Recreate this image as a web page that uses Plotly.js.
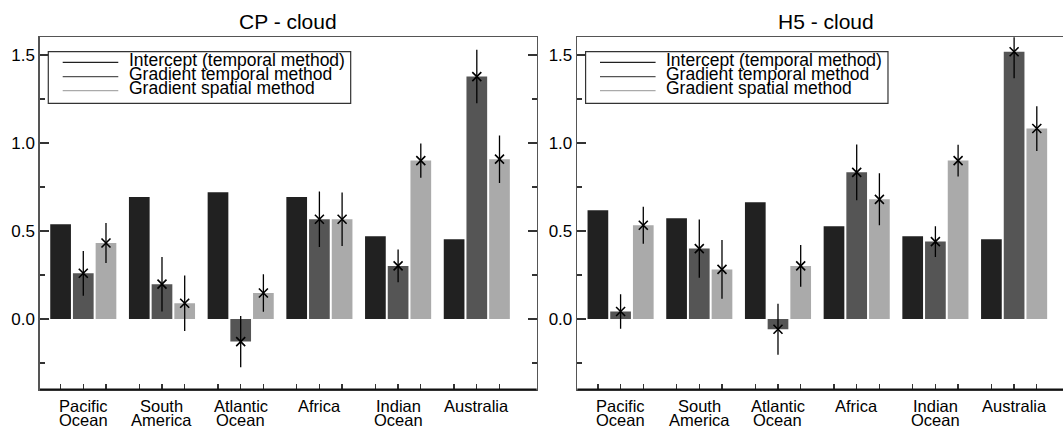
<!DOCTYPE html>
<html><head><meta charset="utf-8">
<script src="https://cdn.plot.ly/plotly-3.0.1.min.js"></script>
<style>html,body{margin:0;padding:0;overflow:hidden;background:#fff}#chart{width:1080px;height:429px}</style>
</head><body><div id="chart"></div>
<script>
// ---- data ----
const regions = ["Pacific Ocean","South America","Atlantic Ocean","Africa","Indian Ocean","Australia"];
const regionLine1 = ["Pacific","South","Atlantic","Africa","Indian","Australia"];
const regionLine2 = ["Ocean","America","Ocean","","Ocean",""];
const seriesNames = ["Intercept (temporal method)","Gradient temporal method","Gradient spatial method"];
const panelTitles = ["CP - cloud","H5 - cloud"];
const yTickVals = [0, 0.5, 1.0, 1.5];
const yTickText = ["0.0","0.5","1.0","1.5"];

// CP - cloud
const cpIntercept      = [0.538, 0.693, 0.720, 0.693, 0.470, 0.453];
const cpGradTemporal   = [0.260, 0.198, -0.128, 0.567, 0.302, 1.377];
const cpGradTemporalErr= [0.127, 0.155, 0.145, 0.158, 0.093, 0.152];
const cpGradSpatial    = [0.432, 0.090, 0.148, 0.567, 0.900, 0.908];
const cpGradSpatialErr = [0.114, 0.158, 0.107, 0.152, 0.097, 0.135];

// H5 - cloud
const h5Intercept      = [0.618, 0.572, 0.663, 0.527, 0.470, 0.453];
const h5GradTemporal   = [0.043, 0.400, -0.058, 0.833, 0.440, 1.518];
const h5GradTemporalErr= [0.098, 0.166, 0.145, 0.158, 0.087, 0.150];
const h5GradSpatial    = [0.533, 0.282, 0.302, 0.680, 0.900, 1.082];
const h5GradSpatialErr = [0.105, 0.167, 0.118, 0.148, 0.090, 0.127];

// ---- styling / layout ----
const W = 1080, H = 429;
const FONT = "Liberation Sans, Arial, Helvetica, sans-serif";
const colors = ["#212121", "#555555", "#aaaaaa"];
const BAR_STEP = 0.2884, BAR_W = 0.263;
const AX_COLOR = "#555555";
const TICK_COLOR = "#333333";
const py = p => 1 - p / H;
const Y_BOTTOM = 389.5, Y_TOP = 37.3;

const panels = [
  {title: panelTitles[0], vals: [cpIntercept, cpGradTemporal, cpGradSpatial], errs: [null, cpGradTemporalErr, cpGradSpatialErr], xa: "x", ya: "y", dom: [40/W, 536.7/W]},
  {title: panelTitles[1], vals: [h5Intercept, h5GradTemporal, h5GradSpatial], errs: [null, h5GradTemporalErr, h5GradSpatialErr], xa: "x2", ya: "y2", dom: [577.3/W, 1074/W]}
];

const traces = [];
const shapes = [];
const annotations = [];
const tickPositions = [];
regions.forEach((_, i) => { for (let k = 0; k < 3; k++) tickPositions.push(i + (k - 1) * BAR_STEP); });

panels.forEach(p => {
  p.vals.forEach((vals, k) => {
    const xs = regions.map((_, i) => i + (k - 1) * BAR_STEP);
    traces.push({
      type: "bar", x: xs, y: vals, width: BAR_W, name: seriesNames[k],
      marker: {color: colors[k], line: {width: 0}},
      xaxis: p.xa, yaxis: p.ya, showlegend: false, hoverinfo: "skip"
    });
    if (p.errs[k]) {
      traces.push({
        type: "scatter", mode: "markers", x: xs, y: vals, name: seriesNames[k],
        marker: {symbol: "x-thin", size: 9, line: {width: 1.6, color: "#000"}, color: "#000"},
        error_y: {type: "data", array: p.errs[k], visible: true, color: "#000", thickness: 1.3, width: 0},
        xaxis: p.xa, yaxis: p.ya, showlegend: false, hoverinfo: "skip"
      });
    }
  });
  const dref = p.xa + " domain";
  // darker bottom axis line
  shapes.push({type: "line", xref: dref, yref: "paper", x0: 0, x1: 1, y0: py(Y_BOTTOM), y1: py(Y_BOTTOM), line: {color: "#111", width: 2.2}, layer: "above"});
  // subplot title
  annotations.push({text: p.title, xref: dref, x: 0.5, yref: "paper", y: py(21), xanchor: "center", yanchor: "middle", showarrow: false, font: {size: 21, color: "#000", family: FONT}});
  // region labels
  regions.forEach((_, i) => {
    annotations.push({text: regionLine1[i], xref: p.xa, x: i, yref: "paper", y: py(406), xanchor: "center", yanchor: "middle", showarrow: false, font: {size: 16.5, color: "#000", family: FONT}});
    if (regionLine2[i]) annotations.push({text: regionLine2[i], xref: p.xa, x: i, yref: "paper", y: py(420), xanchor: "center", yanchor: "middle", showarrow: false, font: {size: 16.5, color: "#000", family: FONT}});
  });
  // legend box
  shapes.push({type: "rect", xref: dref, yref: "paper", x0: 0.0167, x1: 0.6255, y0: py(51.7), y1: py(103.3), line: {color: "#333", width: 1.2}, fillcolor: "#fff", layer: "above"});
  const lineY = [62.3, 76.7, 90.7];
  const textY = [59.9, 74.2, 88.5];
  seriesNames.forEach((nm, k) => {
    shapes.push({type: "line", xref: dref, yref: "paper", x0: 0.0457, x1: 0.1576, y0: py(lineY[k]), y1: py(lineY[k]), line: {color: colors[k], width: 1.3}, layer: "above"});
    annotations.push({text: nm, xref: dref, x: 0.1752, yref: "paper", y: py(textY[k]), xanchor: "left", yanchor: "middle", showarrow: false, font: {size: 17.5, color: "#000", family: FONT}});
  });
});

function xAxis(dom, anchor) {
  return {domain: dom, anchor: anchor, range: [-0.55, 5.761], showgrid: false, zeroline: false,
    showline: true, linecolor: AX_COLOR, linewidth: 1.6, mirror: true,
    tickmode: "array", tickvals: tickPositions, ticks: "inside", ticklen: 6, tickwidth: 1.3, tickcolor: TICK_COLOR,
    showticklabels: false, fixedrange: true};
}
function yAxis(anchor) {
  return {domain: [(H - Y_BOTTOM) / H, (H - Y_TOP) / H], anchor: anchor, range: [-0.4, 1.6], showgrid: false, zeroline: false,
    showline: true, linecolor: AX_COLOR, linewidth: 1.6, mirror: "ticks",
    tickmode: "array", tickvals: yTickVals, ticktext: yTickText, ticks: "inside", ticklen: 9, tickwidth: 1.3, tickcolor: TICK_COLOR,
    minor: {tickmode: "linear", tick0: 0, dtick: 0.25, ticks: "inside", ticklen: 5, tickwidth: 1.3, tickcolor: TICK_COLOR, showgrid: false},
    tickfont: {size: 17, color: "#000", family: FONT}, fixedrange: true};
}

const layout = {
  width: W, height: H, margin: {l: 0, r: 0, t: 0, b: 0},
  paper_bgcolor: "#fff", plot_bgcolor: "#fff",
  font: {family: FONT, color: "#000"},
  barmode: "overlay", showlegend: false,
  xaxis: xAxis(panels[0].dom, "y"), yaxis: yAxis("x"),
  xaxis2: xAxis(panels[1].dom, "y2"), yaxis2: yAxis("x2"),
  shapes: shapes, annotations: annotations
};

Plotly.newPlot("chart", traces, layout, {displayModeBar: false, staticPlot: true});
</script>
</body></html>
